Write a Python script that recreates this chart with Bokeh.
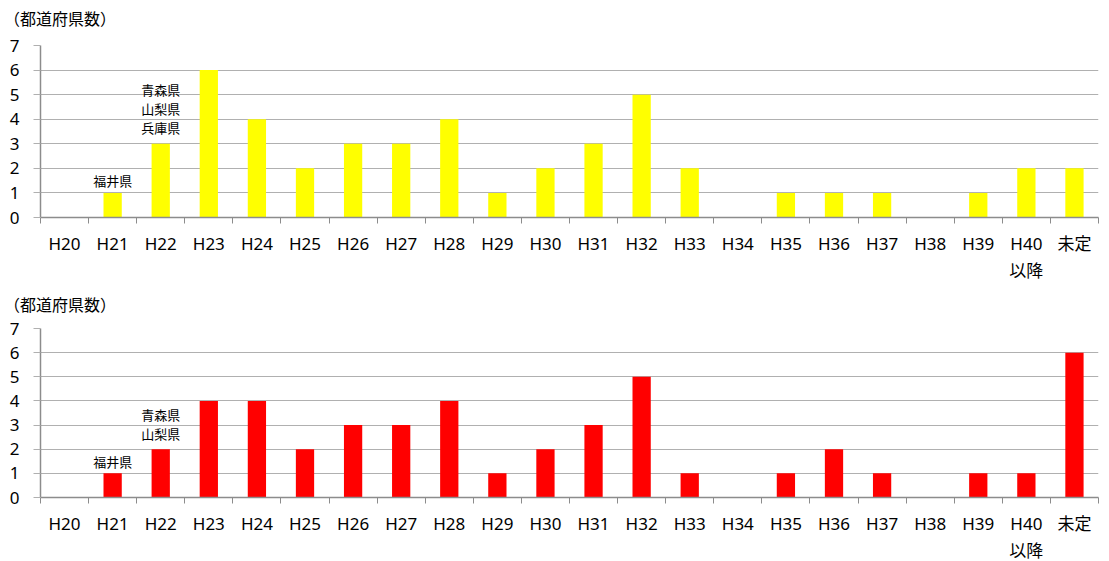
from bokeh.plotting import figure
from bokeh.layouts import column
from bokeh.models import Range1d, FixedTicker, ColumnDataSource, LabelSet, Div
from bokeh.core.properties import value
from bokeh.embed import file_html
from bokeh.resources import INLINE

categories = ["H20", "H21", "H22", "H23", "H24", "H25", "H26", "H27", "H28", "H29", "H30",
              "H31", "H32", "H33", "H34", "H35", "H36", "H37", "H38", "H39", "H40\n以降", "未定"]
top_values = [0, 1, 3, 6, 4, 2, 3, 3, 4, 1, 2, 3, 5, 2, 0, 1, 1, 1, 0, 1, 2, 2]
bottom_values = [0, 1, 2, 4, 4, 2, 3, 3, 4, 1, 2, 3, 5, 1, 0, 1, 2, 1, 0, 1, 1, 6]
y_ticks = [0, 1, 2, 3, 4, 5, 6, 7]
axis_title = "（都道府県数）"

top_notes = ["福井県", "青森県", "山梨県", "兵庫県"]
top_note_cat = [1, 2, 2, 2]
top_note_y = [1.5, 5.2, 4.45, 3.66]
bottom_notes = ["福井県", "青森県", "山梨県"]
bottom_note_cat = [1, 2, 2]
bottom_note_y = [1.5, 3.45, 2.66]

FONT = "Noto Sans CJK JP"
LATIN = "Noto Sans, Noto Sans CJK JP"
GRID = "#b0b0b0"
AXIS = "#8c8c8c"


def make_title(margin_top, h):
    return Div(text=axis_title, width=300, height=h, margin=(margin_top, 0, 0, 4),
               styles={"font-family": FONT, "font-size": "16px",
                       "line-height": "%dpx" % h, "color": "#000000"})


def make_chart(values, color, notes, note_cat, note_y, top_border, frame_h, bottom_border):
    n = len(categories)
    p = figure(width=1100, height=top_border + frame_h + bottom_border,
               frame_width=1058, frame_height=frame_h,
               x_range=Range1d(-0.5, n - 0.5), y_range=Range1d(0, 7),
               output_backend="svg", toolbar_location=None,
               min_border_left=40, min_border_right=2, min_border_top=top_border,
               min_border_bottom=bottom_border)
    p.outline_line_color = None

    xs = list(range(n))
    src = ColumnDataSource(dict(x=xs, top=values))
    p.vbar(x="x", top="top", width=0.38, bottom=0, source=src,
           fill_color=color, line_color=None)

    nsrc = ColumnDataSource(dict(x=note_cat, y=note_y, t=notes))
    p.add_layout(LabelSet(x="x", y="y", text="t", source=nsrc,
                          text_font=value(FONT), text_font_size="13px",
                          text_align="center", text_baseline="middle",
                          text_color="#000000"))

    xa = p.xaxis[0]
    xa.ticker = FixedTicker(ticks=xs, minor_ticks=[i + 0.5 for i in range(-1, n)])
    xa.major_label_overrides = {i: c for i, c in enumerate(categories)}
    xa.major_tick_line_color = None
    xa.major_tick_in = 0
    xa.major_tick_out = 0
    xa.minor_tick_in = 0
    xa.minor_tick_out = 6
    xa.minor_tick_line_color = AXIS
    xa.axis_line_color = AXIS
    xa.axis_line_width = 1.5
    xa.major_label_standoff = 8
    xa.major_label_text_font = LATIN
    xa.major_label_text_font_size = "17px"
    xa.major_label_text_color = "#000000"

    ya = p.yaxis[0]
    ya.ticker = FixedTicker(ticks=y_ticks, minor_ticks=[])
    ya.major_tick_in = 0
    ya.major_tick_out = 7
    ya.major_tick_line_color = GRID
    ya.axis_line_color = AXIS
    ya.axis_line_width = 1.5
    ya.major_label_standoff = 14
    ya.major_label_text_font = LATIN
    ya.major_label_text_font_size = "17px"
    ya.major_label_text_color = "#000000"

    p.xgrid.grid_line_color = None
    p.ygrid.grid_line_color = GRID
    p.ygrid.ticker = FixedTicker(ticks=y_ticks)
    return p


t1 = make_title(5, 26)
p1 = make_chart(top_values, "#ffff00", top_notes, top_note_cat, top_note_y, 14, 172, 71)
t2 = make_title(5, 23)
p2 = make_chart(bottom_values, "#ff0000", bottom_notes, bottom_note_cat, bottom_note_y, 12, 169, 62)
layout = column(t1, p1, t2, p2, spacing=0)

open("out.html", "w").write(file_html(layout, INLINE))
